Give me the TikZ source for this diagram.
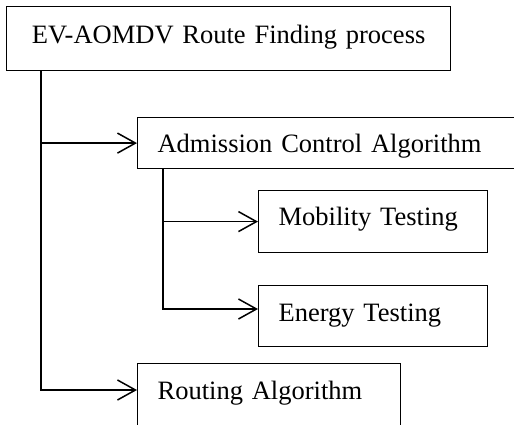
\documentclass[tikz,border=0pt]{standalone}
\usepackage{fontspec}
\setmainfont{Liberation Serif}
\usepackage{tikz}
\usetikzlibrary{arrows.meta}

\begin{document}
\begin{tikzpicture}[x=1pt, y=-1pt,
    box/.style={draw, line width=1.2pt, rectangle, anchor=north west, inner xsep=20pt, inner ysep=0pt,
        text height=36pt, align=left, font=\fontsize{26.5}{30}\selectfont},
    link/.style={line width=1.5pt, -{Straight Barb[length=18pt, width=20pt]}}]
        \useasboundingbox (0,0) rectangle (514,425);
        \clip (0,0) rectangle (514,425);
        % Draw the nodes
        \node[box, align=center, text width=404pt, text height=37pt, text depth=27pt] (find) at (6,6) {EV-AOMDV Route Finding process};
        \node[box, text width=360pt, text height=35pt, text depth=16pt] (adm) at (137,117) {Admission Control Algorithm};
        \node[box, text width=189pt, text height=35pt, text depth=27pt] (mob) at (258,190) {Mobility Testing};
        \node[box, text width=189pt, text depth=25pt] (ene) at (258,285) {Energy Testing};
        \node[box, text width=223pt, text depth=60pt] (route) at (137,363) {Routing Algorithm};

        % Draw the arrows
        \draw[link] ([xshift=35pt]find.south west) |- (adm.west);
        \draw[link] ([xshift=35pt]find.south west) |- ([yshift=-27pt]route.north west);
        \draw[link] ([xshift=26pt]adm.south west) |- (mob.west);
        \draw[link] ([xshift=26pt]adm.south west) |- ([yshift=-24pt]ene.north west);
    \end{tikzpicture}
\end{document}
